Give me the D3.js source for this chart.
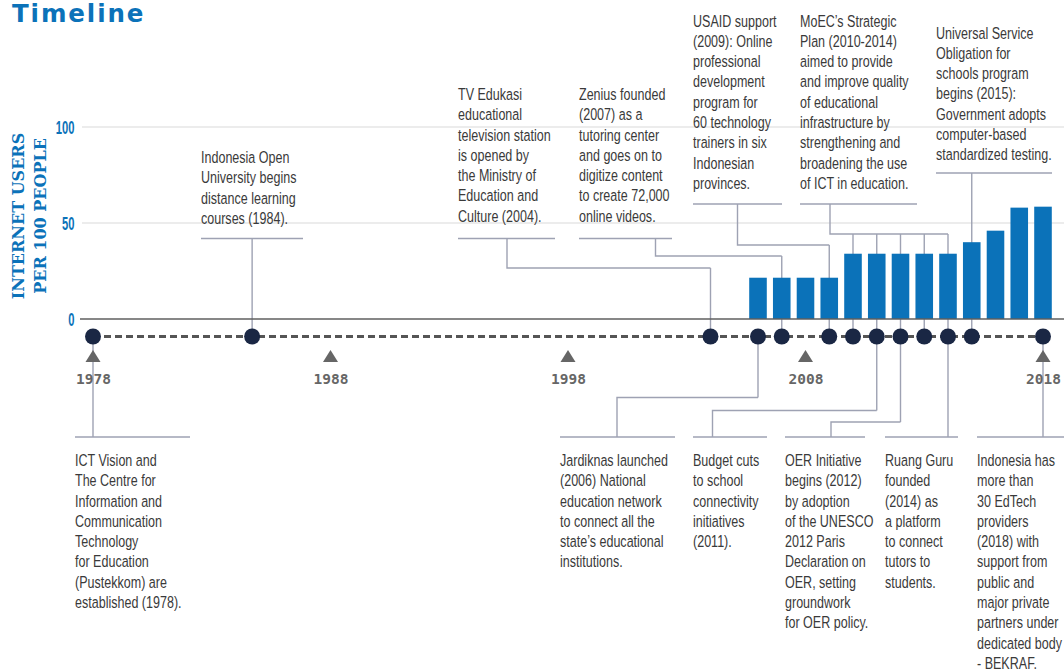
<!DOCTYPE html>
<html><head><meta charset="utf-8">
<script src="https://cdn.jsdelivr.net/npm/d3@7"></script>
<style>html,body{margin:0;padding:0;background:#fff;} svg{display:block;}</style>
</head><body>
<svg id="chart" width="1064" height="672"></svg>
<script>
// ---------- data ----------
const barYears = [2006,2007,2008,2009,2010,2011,2012,2013,2014,2015,2016,2017,2018];
const barValues = [21.5,21.5,21.5,21.5,34,34,34,34,34,40,46,58,58.5];
const eventYears = [1978,1984.7,2004,2006,2007,2009,2010,2011,2012,2013,2014,2015,2018];
const tickYears = [1978,1988,1998,2008,2018];
const yTicks = [0,50,100];
const titleText = "Timeline";
const yTitle = ["INTERNET USERS","PER 100 PEOPLE"];

const txtOpenUniv = ["Indonesia Open","University begins","distance learning","courses (1984)."];
const txtTVE = ["TV Edukasi","educational","television station","is opened by","the Ministry of","Education and","Culture (2004)."];
const txtZenius = ["Zenius founded","(2007) as a","tutoring center","and goes on to","digitize content","to create 72,000","online videos."];
const txtUSAID = ["USAID support","(2009): Online","professional","development","program for","60 technology","trainers in six","Indonesian","provinces."];
const txtMoEC = ["MoEC\u2019s Strategic","Plan (2010-2014)","aimed to provide","and improve quality","of educational","infrastructure by","strengthening and","broadening the use","of ICT in education."];
const txtUSO = ["Universal Service","Obligation for","schools program","begins (2015):","Government adopts","computer-based","standardized testing."];
const txtICT = ["ICT Vision and","The Centre for","Information and","Communication","Technology","for Education","(Pustekkom) are","established (1978)."];
const txtJardiknas = ["Jardiknas launched","(2006) National","education network","to connect all the","state\u2019s educational","institutions."];
const txtBudget = ["Budget cuts","to school","connectivity","initiatives","(2011)."];
const txtOER = ["OER Initiative","begins (2012)","by adoption","of the UNESCO","2012 Paris","Declaration on","OER, setting","groundwork","for OER policy."];
const txtRuang = ["Ruang Guru","founded","(2014) as","a platform","to connect","tutors to","students."];
const txtIndo = ["Indonesia has","more than","30 EdTech","providers","(2018) with","support from","public and","major private","partners under","dedicated body","- BEKRAF."];

// ---------- layout ----------
const svg = d3.select("#chart");
const x = d3.scaleLinear().domain([1978,2018]).range([93,1043]);
const y = d3.scaleLinear().domain([0,100]).range([319,127]);
const dotY = 336.5;
const step = x(1979) - x(1978);
const barW = step * 0.74;
const blue = "#0b72b9";
const connColor = "#9ea2b3";
const textColor = "#3a3a3a";
const noteFont = "'Liberation Sans Narrow','Liberation Sans',Arial,sans-serif";
const squeeze = 0.76;
const lh = 20.3;

const topNotes = [
  {lines: txtOpenUniv, tx:201, first:163, rule:[201,303,238.5], conn:null, elbow:null, targets:[1984.7]},
  {lines: txtTVE, tx:458, first:100, rule:[458,555,238.5], conn:507, elbow:268, targets:[2004]},
  {lines: txtZenius, tx:579, first:100, rule:[579,672,238.5], conn:655.5, elbow:256, targets:[2007]},
  {lines: txtUSAID, tx:693, first:26.5, rule:[693,782,204], conn:737.5, elbow:245, targets:[2009]},
  {lines: txtMoEC, tx:800, first:26.5, rule:[800,917,204], conn:830, elbow:234, targets:[2010,2011,2012,2013,2014]},
  {lines: txtUSO, tx:936, first:38.5, rule:[936,1052,173], conn:null, elbow:null, targets:[2015]}
];
const bottomNotes = [
  {lines: txtICT, tx:75, rule:[75,190,437], conn:null, elbow:null, targets:[1978]},
  {lines: txtJardiknas, tx:560, rule:[560,675,437], conn:617, elbow:397.5, targets:[2006]},
  {lines: txtBudget, tx:693, rule:[693,767,437], conn:712.5, elbow:410.5, targets:[2011]},
  {lines: txtOER, tx:785, rule:[785,865,437], conn:831, elbow:422, targets:[2012]},
  {lines: txtRuang, tx:885, rule:[885,958,437], conn:null, elbow:null, targets:[2014]},
  {lines: txtIndo, tx:977, rule:[977,1064,437], conn:null, elbow:null, targets:[2018]}
];
const bottomFirst = 466;

// ---------- gridlines ----------
svg.append("g").selectAll("line").data(yTicks.filter(d => d > 0)).join("line")
  .attr("x1", 82).attr("x2", 1064)
  .attr("y1", d => y(d)).attr("y2", d => y(d))
  .attr("stroke", "#e6e6e6").attr("stroke-width", 1.5);

// ---------- connectors ----------
const conn = svg.append("g").attr("fill","none").attr("stroke",connColor).attr("stroke-width",1.4);
function drawNote(n, isTop){
  const ry = n.rule[2];
  conn.append("line").attr("x1", n.rule[0]).attr("x2", n.rule[1]).attr("y1", ry).attr("y2", ry);
  const ts = n.targets.map(t => x(t));
  if (n.elbow == null) {
    conn.append("line").attr("x1", ts[0]).attr("x2", ts[0]).attr("y1", ry).attr("y2", dotY);
  } else {
    const far = ts[ts.length-1];
    conn.append("path").attr("d", `M${n.conn},${ry}V${n.elbow}H${far}`);
    ts.forEach(tx => conn.append("line").attr("x1", tx).attr("x2", tx).attr("y1", n.elbow).attr("y2", dotY));
  }
  const first = isTop ? n.first : bottomFirst;
  const t = svg.append("text").attr("font-family", noteFont).attr("font-size", 16.5)
    .attr("fill", textColor)
    .attr("transform", `translate(${n.tx},${first}) scale(${squeeze},1)`);
  n.lines.forEach((l,i) => t.append("tspan").attr("x", 0).attr("y", i*lh).text(l));
}
topNotes.forEach(n => drawNote(n, true));
bottomNotes.forEach(n => drawNote(n, false));

// ---------- bars ----------
svg.append("g").selectAll("rect").data(barYears).join("rect")
  .attr("x", (d) => x(d) - barW/2)
  .attr("width", barW)
  .attr("y", (d,i) => y(barValues[i]))
  .attr("height", (d,i) => y(0) - y(barValues[i]))
  .attr("fill", blue);

// ---------- zero baseline ----------
svg.append("line").attr("x1", 80).attr("x2", 1064).attr("y1", y(0)).attr("y2", y(0))
  .attr("stroke", "#5f5f5f").attr("stroke-width", 1.5);

// ---------- y axis labels ----------
const yAxis = d3.axisLeft(y).tickValues(yTicks).tickSize(0).tickPadding(0).tickFormat(d3.format("d"));
const gy = svg.append("g").attr("transform", "translate(74.5,0)").call(yAxis);
gy.select(".domain").remove();
gy.selectAll("text").attr("x", 0).attr("fill", blue).attr("font-family", noteFont)
  .attr("font-weight", "bold").attr("font-size", 17.5).attr("dy", "0.35em")
  .attr("transform", "scale(0.64,1)");

// ---------- y title ----------
const yt = svg.append("text").attr("transform", "translate(0,216) rotate(-90)")
  .attr("text-anchor", "middle").attr("fill", blue)
  .attr("font-family", "'DejaVu Serif',serif").attr("font-weight", "bold").attr("font-size", 16);
yTitle.forEach((l,i) => yt.append("tspan").attr("x", 0).attr("y", 24 + i*22).text(l));

// ---------- timeline ----------
svg.append("line").attr("x1", x(1978)).attr("x2", x(2018)).attr("y1", dotY).attr("y2", dotY)
  .attr("stroke", "#555").attr("stroke-width", 3).attr("stroke-dasharray", "7,4");
svg.append("g").selectAll("circle").data(eventYears).join("circle")
  .attr("cx", d => x(d)).attr("cy", dotY).attr("r", 8).attr("fill", "#1a2744");
svg.append("g").selectAll("path").data(tickYears).join("path")
  .attr("d", d => `M${x(d)-7.5},362L${x(d)},350L${x(d)+7.5},362Z`).attr("fill", "#666");
const xAxis = d3.axisBottom(x).tickValues(tickYears).tickSize(0).tickPadding(0).tickFormat(d3.format("d"));
const gx = svg.append("g").attr("transform", "translate(0,384)").call(xAxis);
gx.select(".domain").remove();
gx.selectAll("text").attr("dy", 0).attr("y", 0).attr("fill", "#666")
  .attr("font-family", "'DejaVu Sans Mono',monospace").attr("font-weight", "bold").attr("font-size", 14.5);

// ---------- title ----------
svg.append("text").attr("x", 12).attr("y", 22).attr("fill", blue)
  .attr("font-family", "'DejaVu Sans',sans-serif").attr("font-weight", "bold")
  .attr("font-size", 24.5).attr("letter-spacing", 1.9).text(titleText);
</script>
</body></html>
